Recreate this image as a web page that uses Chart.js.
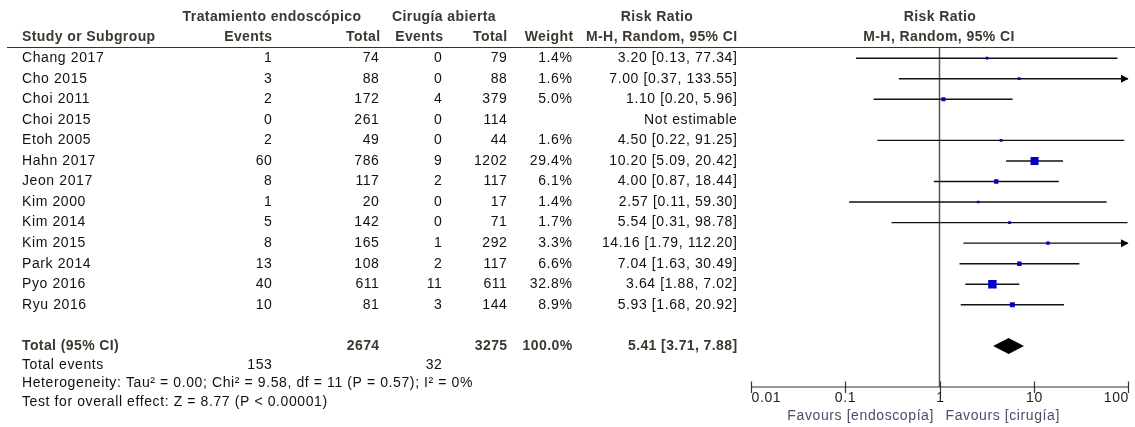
<!DOCTYPE html>
<html><head><meta charset="utf-8">
<script src="https://cdn.jsdelivr.net/npm/chart.js@4.4.0/dist/chart.umd.min.js"></script>
<style>html,body{margin:0;padding:0;background:#fff;}canvas{display:block;}</style>
</head><body>
<canvas id="c" width="1135" height="427"></canvas>
<script>
// ---- data ----
const studies = ['Chang 2017','Cho 2015','Choi 2011','Choi 2015','Etoh 2005','Hahn 2017','Jeon 2017','Kim 2000','Kim 2014','Kim 2015','Park 2014','Pyo 2016','Ryu 2016'];
const events1 = [1,3,2,0,2,60,8,1,5,8,13,40,10];
const total1  = [74,88,172,261,49,786,117,20,142,165,108,611,81];
const events2 = [0,0,4,0,0,9,2,0,0,1,2,11,3];
const total2  = [79,88,379,114,44,1202,117,17,71,292,117,611,144];
const weights = [1.4,1.6,5.0,null,1.6,29.4,6.1,1.4,1.7,3.3,6.6,32.8,8.9];
const riskRatio = [3.20,7.00,1.10,null,4.50,10.20,4.00,2.57,5.54,14.16,7.04,3.64,5.93];
const ciLow  = [0.13,0.37,0.20,null,0.22,5.09,0.87,0.11,0.31,1.79,1.63,1.88,1.68];
const ciHigh = [77.34,133.55,5.96,null,91.25,20.42,18.44,59.30,98.78,112.20,30.49,7.02,20.92];
const totalN1 = 2674, totalN2 = 3275, totalWeight = 100.0;
const totalEvents1 = 153, totalEvents2 = 32;
const pooled = {rr:5.41, lo:3.71, hi:7.88};
const xTicks = [0.01,0.1,1,10,100];
const xTickLabels = ['0.01','0.1','1','10','100'];
const heterogeneityText = 'Heterogeneity: Tau\u00b2 = 0.00; Chi\u00b2 = 9.58, df = 11 (P = 0.57); I\u00b2 = 0%';
const overallText = 'Test for overall effect: Z = 8.77 (P < 0.00001)';
const totalRowIndex = 14;

// ---- datasets built from data ----
const ciSets = [];
studies.forEach((s,i)=>{
  if (riskRatio[i]==null) return;
  ciSets.push({type:'line', label:s, data:[{x:ciLow[i],y:i},{x:ciHigh[i],y:i}],
    borderColor:'#111', borderWidth:1.4, pointRadius:0, showLine:true, order:2});
});
const squarePts = [];
studies.forEach((s,i)=>{ if (riskRatio[i]!=null) squarePts.push({x:riskRatio[i], y:i, w:weights[i]}); });
const squareSet = {type:'scatter', label:'RR', data:squarePts, pointStyle:'rect',
  pointRadius:(c)=> c.raw ? 0.8 + 0.9*Math.sqrt(c.raw.w) : 0, backgroundColor:'#0000c8', borderWidth:0, order:1};

const FONT = '"Liberation Sans", Arial, sans-serif';
const HEAD_COL = '#3d372f';
const TXT_COL = '#111';

function txt(ctx, s, x, y, align, bold, color){
  ctx.font = (bold?'bold ':'') + '14px ' + FONT;
  ctx.letterSpacing = bold ? '0.4px' : '0.6px';
  ctx.fillStyle = color || TXT_COL;
  ctx.textAlign = align;
  ctx.textBaseline = 'middle';
  const adj = align==='right' ? 0.5 : 0;
  ctx.fillText(s, x+adj, y);
}

const forestPlugin = {
  id:'forest',
  beforeDatasetsDraw(chart){
    const ctx = chart.ctx, xs = chart.scales.x, ca = chart.chartArea;
    ctx.save();
    ctx.strokeStyle = '#555'; ctx.lineWidth = 1.5;
    const x1 = xs.getPixelForValue(1);
    ctx.beginPath(); ctx.moveTo(x1, ca.top); ctx.lineTo(x1, ca.bottom); ctx.stroke();
    ctx.restore();
  },
  afterDatasetsDraw(chart){
    const ctx = chart.ctx, xs = chart.scales.x, ys = chart.scales.y, ca = chart.chartArea;
    ctx.save();
    // header rule
    ctx.strokeStyle = '#333'; ctx.lineWidth = 1.2;
    ctx.beginPath(); ctx.moveTo(7, ca.top); ctx.lineTo(1135, ca.top); ctx.stroke();
    // headers
    const h1 = 17, h2 = 37.5;
    txt(ctx,'Tratamiento endosc\u00f3pico',272,h1,'center',true,HEAD_COL);
    txt(ctx,'Cirug\u00eda abierta',444,h1,'center',true,HEAD_COL);
    txt(ctx,'Risk Ratio',657,h1,'center',true,HEAD_COL);
    txt(ctx,'Risk Ratio',940,h1,'center',true,HEAD_COL);
    txt(ctx,'Study or Subgroup',22,h2,'left',true,HEAD_COL);
    txt(ctx,'Events',272,h2,'right',true,HEAD_COL);
    txt(ctx,'Total',380,h2,'right',true,HEAD_COL);
    txt(ctx,'Events',443,h2,'right',true,HEAD_COL);
    txt(ctx,'Total',507,h2,'right',true,HEAD_COL);
    txt(ctx,'Weight',573,h2,'right',true,HEAD_COL);
    txt(ctx,'M-H, Random, 95% CI',737,h2,'right',true,HEAD_COL);
    txt(ctx,'M-H, Random, 95% CI',939,h2,'center',true,HEAD_COL);
    // study rows
    studies.forEach((s,i)=>{
      const y = ys.getPixelForValue(i);
      txt(ctx,s,22,y,'left');
      txt(ctx,String(events1[i]),272,y,'right');
      txt(ctx,String(total1[i]),379,y,'right');
      txt(ctx,String(events2[i]),442,y,'right');
      txt(ctx,String(total2[i]),507,y,'right');
      if (weights[i]!=null) txt(ctx,weights[i].toFixed(1)+'%',572,y,'right');
      const rt = riskRatio[i]==null ? 'Not estimable' :
        riskRatio[i].toFixed(2)+' ['+ciLow[i].toFixed(2)+', '+ciHigh[i].toFixed(2)+']';
      txt(ctx,rt,737,y,'right');
      if (ciHigh[i]!=null && ciHigh[i] > xTicks[xTicks.length-1]){
        const xe = xs.getPixelForValue(xTicks[xTicks.length-1]);
        ctx.fillStyle = '#000';
        ctx.beginPath(); ctx.moveTo(xe+0.5,y); ctx.lineTo(xe-7,y-4); ctx.lineTo(xe-7,y+4); ctx.closePath(); ctx.fill();
      }
    });
    // total row
    const yt = ys.getPixelForValue(totalRowIndex);
    txt(ctx,'Total (95% CI)',22,yt,'left',true,HEAD_COL);
    txt(ctx,String(totalN1),379,yt,'right',true,HEAD_COL);
    txt(ctx,String(totalN2),507,yt,'right',true,HEAD_COL);
    txt(ctx,totalWeight.toFixed(1)+'%',572,yt,'right',true,HEAD_COL);
    txt(ctx,pooled.rr.toFixed(2)+' ['+pooled.lo.toFixed(2)+', '+pooled.hi.toFixed(2)+']',737,yt,'right',true,HEAD_COL);
    // diamond
    const dl = xs.getPixelForValue(pooled.lo), dc = xs.getPixelForValue(pooled.rr), dr = xs.getPixelForValue(pooled.hi);
    ctx.fillStyle = '#000';
    ctx.beginPath(); ctx.moveTo(dl,yt); ctx.lineTo(dc,yt-8); ctx.lineTo(dr,yt); ctx.lineTo(dc,yt+8); ctx.closePath(); ctx.fill();
    // footer text
    txt(ctx,'Total events',22,365,'left');
    txt(ctx,String(totalEvents1),272,365,'right');
    txt(ctx,String(totalEvents2),442,365,'right');
    txt(ctx,heterogeneityText,22,383.5,'left');
    txt(ctx,overallText,22,401.7,'left');
    // x axis
    const ay = ca.bottom;
    ctx.strokeStyle = '#333'; ctx.lineWidth = 1.2;
    ctx.beginPath(); ctx.moveTo(xs.getPixelForValue(xTicks[0]), ay); ctx.lineTo(xs.getPixelForValue(xTicks[xTicks.length-1]), ay); ctx.stroke();
    xTicks.forEach((v,k)=>{
      const px = Math.round(xs.getPixelForValue(v))+0.5;
      ctx.beginPath(); ctx.moveTo(px, ay-5.5); ctx.lineTo(px, ay+6); ctx.stroke();
      const al = k===0 ? 'left' : (k===xTicks.length-1 ? 'right' : 'center');
      txt(ctx,xTickLabels[k],px,ay+11.5,al,false,'#222');
    });
    const x1 = xs.getPixelForValue(1);
    txt(ctx,'Favours [endoscop\u00eda]',x1-6,416.5,'right',false,'#47506a');
    txt(ctx,'Favours [cirug\u00eda]',x1+6,416.5,'left',false,'#47506a');
    ctx.restore();
  }
};

new Chart(document.getElementById('c'), {
  type:'scatter',
  data:{datasets:[squareSet, ...ciSets]},
  options:{
    responsive:false, devicePixelRatio:1, animation:false, events:[],
    layout:{padding:{left:751, right:7, top:47.5, bottom:40}},
    plugins:{legend:{display:false}, tooltip:{enabled:false}},
    scales:{
      x:{type:'logarithmic', min:xTicks[0], max:xTicks[xTicks.length-1], display:false},
      y:{type:'linear', min:-0.52, max:16, reverse:true, display:false}
    }
  },
  plugins:[forestPlugin]
});
</script>
</body></html>
